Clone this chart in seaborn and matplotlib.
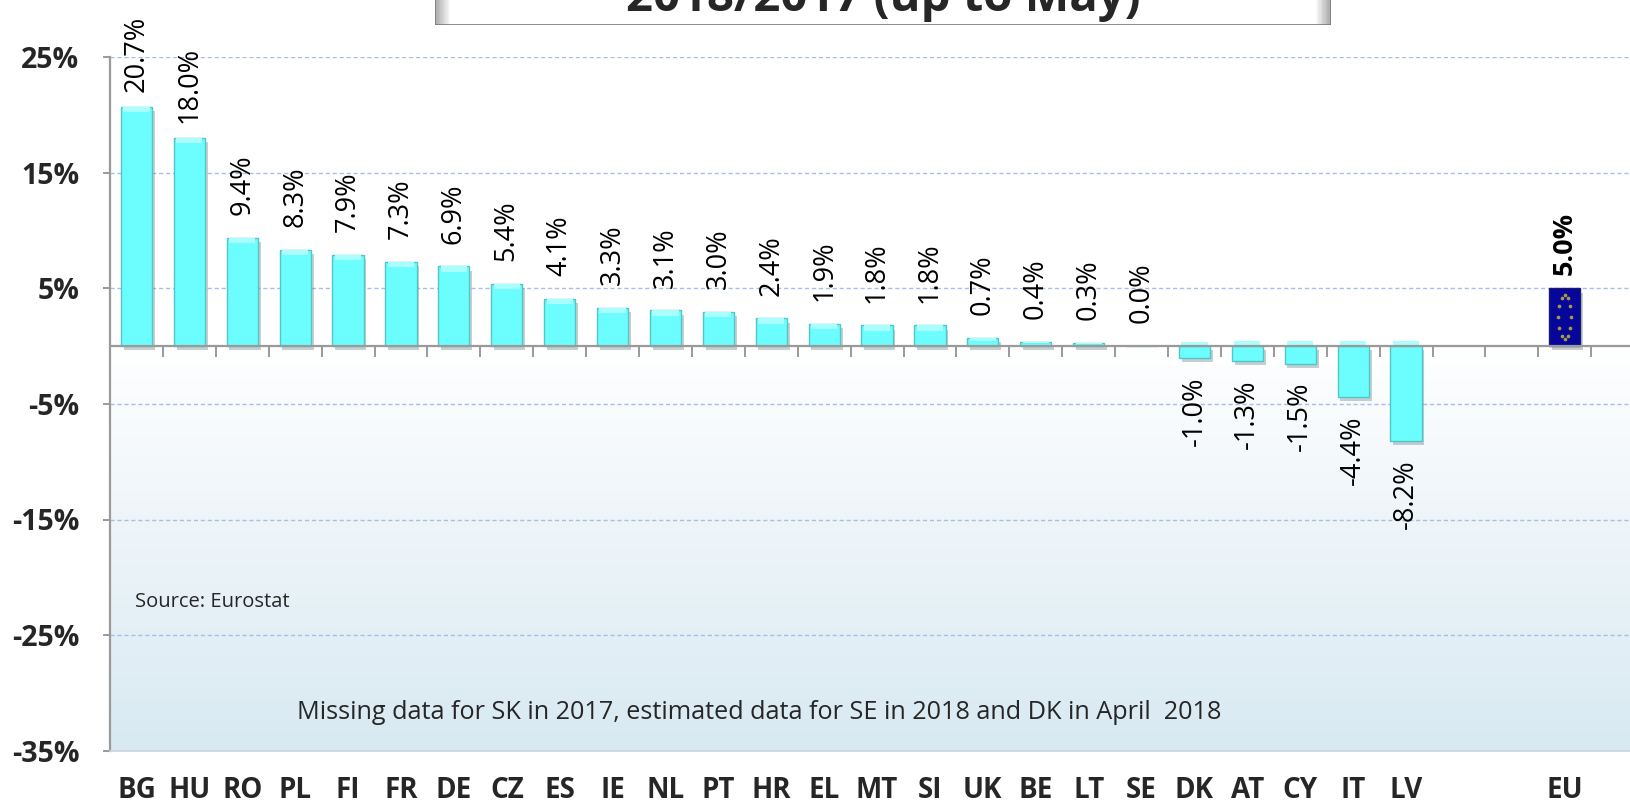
import numpy as np
import pandas as pd
import matplotlib
matplotlib.use("Agg")
import matplotlib.pyplot as plt
import matplotlib.patheffects as pe
from matplotlib import font_manager
import seaborn as sns

# ---------------- data ----------------
countries = ['BG', 'HU', 'RO', 'PL', 'FI', 'FR', 'DE', 'CZ', 'ES', 'IE', 'NL', 'PT', 'HR',
             'EL', 'MT', 'SI', 'UK', 'BE', 'LT', 'SE', 'DK', 'AT', 'CY', 'IT', 'LV']
values = [20.7, 18.0, 9.4, 8.3, 7.9, 7.3, 6.9, 5.4, 4.1, 3.3, 3.1, 3.0, 2.4,
          1.9, 1.8, 1.8, 0.7, 0.4, 0.3, 0.0, -1.0, -1.3, -1.5, -4.4, -8.2]
eu_label = 'EU'
eu_value = 5.0
blank_slots = [' ', '  ']
y_ticks = [25, 15, 5, -5, -15, -25, -35]
title = '2018/2017 (up to May)'
source_text = 'Source: Eurostat'
note_text = 'Missing data for SK in 2017, estimated data for SE in 2018 and DK in April  2018'

# ---------------- fonts ----------------
sns.set_theme(style="white")
names = {f.name for f in font_manager.fontManager.ttflist}
bold_font = 'Liberation Sans Narrow' if 'Liberation Sans Narrow' in names else 'Open Sans'
reg_font = 'Open Sans' if 'Open Sans' in names else 'DejaVu Sans'
plt.rcParams['font.family'] = [reg_font, 'DejaVu Sans']

order = countries + blank_slots + [eu_label]
df = pd.DataFrame({'country': countries + [eu_label],
                   'value': values + [eu_value]})
palette = {c: '#6cfefe' for c in countries}
palette[eu_label] = '#06069a'
for b in blank_slots:
    palette[b] = 'white'

W, H = 1630, 805
fig = plt.figure(figsize=(W / 100, H / 100), dpi=100)
fig.patch.set_facecolor('white')

slot = 52.9
ax_left, ax_right = 110, 110 + 29 * slot
ax_top, ax_bot = 57.3, 750.6
ax = fig.add_axes([ax_left / W, 1 - ax_bot / H, (ax_right - ax_left) / W, (ax_bot - ax_top) / H])

sns.barplot(data=df, x='country', y='value', hue='country', order=order, hue_order=order,
            palette=palette, saturation=1, dodge=False, legend=False,
            width=0.59, ax=ax, zorder=3, linewidth=1.0, edgecolor='#52c6c6', errorbar=None)

ymin, ymax = -35, 25
xl = (-0.5, len(order) + 0.5)

# bars styling: shadow + bevel highlight
shadow = [pe.SimplePatchShadow(offset=(2, -3), shadow_rgbFace='#5a7a7a', alpha=0.35), pe.Normal()]
for p in list(ax.patches):
    p.set_path_effects(shadow)
    fc = p.get_facecolor()
    if fc[2] > 0.5 and fc[0] < 0.2:  # EU
        p.set_edgecolor('#1a1a70')
        continue
    x0, y0, w, h = p.get_x(), p.get_y(), p.get_width(), p.get_height()
    if abs(h) < 0.05:
        continue
    cap = min(0.45, abs(h) * 0.35)
    ye = y0 + h if h > 0 else y0
    yc = ye - cap if h > 0 else ye
    ax.add_patch(plt.Rectangle((x0 + w * 0.08, yc), w * 0.84, cap, facecolor='#aafefe',
                               edgecolor='none', zorder=3.5))

# gradient background (white at 0 to light blue at bottom)
grad = np.linspace(0, 1, 256).reshape(-1, 1)
top_c = np.array([1.0, 1.0, 1.0])
bot_c = np.array([0xd8, 0xe9, 0xf2]) / 255
img = top_c[None, None, :] * (1 - grad[..., None]) + bot_c[None, None, :] * grad[..., None]
ax.imshow(img, extent=[xl[0], xl[1], ymin, 0], aspect='auto', zorder=0, origin='upper')
ax.set_xlim(xl)
ax.set_ylim(ymin, ymax)

# gridlines
for yt in y_ticks:
    ax.axhline(yt, color='#a9bdea', lw=1.0, ls=(0, (3, 2)), zorder=1)
ax.axhline(0, color='#9a9a9a', lw=1.6, zorder=4)
bounds = np.arange(len(order)) + 0.5
ax.vlines(np.concatenate([[-0.5], bounds]), -0.9, 0, color='#9a9a9a', lw=1.4, zorder=4)

# spines
for s in ['top', 'right']:
    ax.spines[s].set_visible(False)
ax.spines['left'].set_color('#9a9a9a')
ax.spines['left'].set_linewidth(1.6)
ax.spines['bottom'].set_color('#c9d3da')
ax.spines['bottom'].set_linewidth(1.2)

ax.set_yticks(y_ticks)
ax.set_yticklabels([f'{t}%' for t in y_ticks], fontfamily=bold_font, fontweight='bold', fontsize=20.5)
ax.tick_params(axis='y', length=5, width=1.4, color='#9a9a9a', pad=17, left=True)
ax.set_xticks(range(len(order)))
ax.set_xticklabels(order, fontfamily=bold_font, fontweight='bold', fontsize=20)
ax.tick_params(axis='x', length=0, pad=18)
ax.set_xlabel('')
ax.set_ylabel('')

# value labels
off = 4.6
for i, (c, v) in enumerate(zip(countries, values)):
    y = v + off if v >= 0 else v - off
    ax.text(i, y, f'{v:.1f}%', rotation=90, ha='center', va='center',
            fontsize=19.5, color='black', zorder=5)
eu_i = order.index(eu_label)
ax.text(eu_i, eu_value + 3.9, f'{eu_value:.1f}%', rotation=90, ha='center', va='center',
        fontsize=19.5, fontweight='bold', color='black', zorder=5)

# EU flag stars ring (decoration inside EU bar)
ang = np.linspace(0, 2 * np.pi, 12, endpoint=False)
ax.scatter(eu_i + 0.12 * np.sin(ang), eu_value / 2 + 0.38 * eu_value * np.cos(ang),
           s=7, color='#a89a40', zorder=6, linewidths=0)

# source / note
ax.text(-0.5 + 25 / slot, -22.1, source_text, fontsize=14.5, ha='left', va='center', zorder=5)
ax.text((759 - ax_left) / slot - 0.5, -31.7, note_text, fontsize=18.2, ha='center', va='center', zorder=5)

# title box
tb_l, tb_r, tb_b = 435, 1331, 25
tax = fig.add_axes([tb_l / W, 1 - tb_b / H, (tb_r - tb_l) / W, 60 / H])
g = np.linspace(0, 1, 100).reshape(-1, 1)
shade = np.clip((g - 0.55) / 0.45, 0, 1) ** 1.5
tb_img = np.ones((100, 200, 3))
tb_img *= (1 - 0.45 * shade)[..., None]
hx = np.linspace(0, 1, 200)
edge = np.clip(1 - np.minimum(hx, 1 - hx) / 0.015, 0, 1) * 0.3
tb_img = tb_img * (1 - edge[None, :, None])
tax.imshow(tb_img, extent=[0, 1, 1, 0], aspect='auto')
tax.set_xlim(0, 1)
tax.set_ylim(0, 1)
tax.axis('off')
tax.add_patch(plt.Rectangle((0, 0), 1, 1, fill=False, edgecolor='#7a7a7a', lw=1.2,
                            transform=tax.transAxes))
fig.text((tb_l + tb_r) / 2 / W, 1 - 11 / H, title, ha='center', va='baseline',
         fontsize=34, fontweight='bold', fontfamily=bold_font)

fig.savefig('out.png', dpi=100)
